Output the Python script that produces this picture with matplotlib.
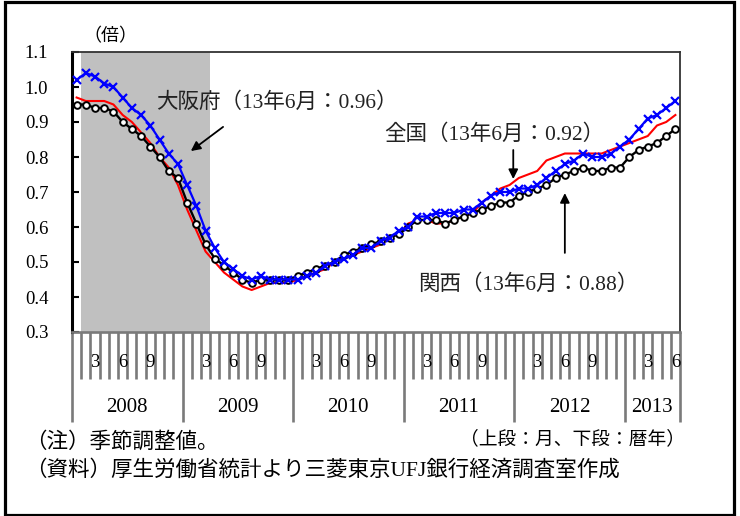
import numpy as np
import matplotlib
matplotlib.use('Agg')
import matplotlib.pyplot as plt
from matplotlib.patches import Rectangle

plt.rcParams['font.family'] = ['Liberation Serif', 'Noto Sans CJK JP']

W, H, DPI = 740, 516, 100

# monthly values, Jan 2008 .. Jun 2013 (seasonally adjusted)
osaka = [
    1.02, 1.04, 1.03, 1.01, 1.00, 0.97, 0.94, 0.92, 0.89, 0.85, 0.81, 0.78,
    0.72, 0.66, 0.59, 0.54, 0.50, 0.48, 0.46, 0.45, 0.46, 0.45, 0.45, 0.45,
    0.45, 0.46, 0.47, 0.49, 0.50, 0.51, 0.52, 0.54, 0.54, 0.56, 0.57, 0.59,
    0.60, 0.63, 0.63, 0.64, 0.64, 0.64, 0.65, 0.65, 0.67, 0.69, 0.70, 0.70,
    0.71, 0.71, 0.72, 0.74, 0.76, 0.78, 0.79, 0.81, 0.80, 0.80, 0.81, 0.83,
    0.85, 0.88, 0.91, 0.92, 0.94, 0.96,
]
kansai = [
    0.95, 0.95, 0.94, 0.94, 0.93, 0.90, 0.88, 0.86, 0.83, 0.80, 0.76, 0.74,
    0.67, 0.61, 0.55, 0.51, 0.49, 0.47, 0.45, 0.44, 0.45, 0.45, 0.45, 0.45,
    0.46, 0.47, 0.48, 0.49, 0.50, 0.52, 0.53, 0.54, 0.55, 0.56, 0.57, 0.58,
    0.60, 0.62, 0.62, 0.62, 0.61, 0.62, 0.63, 0.64, 0.65, 0.66, 0.67, 0.67,
    0.69, 0.70, 0.71, 0.72, 0.74, 0.75, 0.76, 0.77, 0.76, 0.76, 0.77, 0.77,
    0.80, 0.82, 0.83, 0.84, 0.86, 0.88,
]
national = [
    0.97, 0.96, 0.96, 0.96, 0.95, 0.92, 0.90, 0.87, 0.84, 0.80, 0.77, 0.72,
    0.65, 0.59, 0.53, 0.50, 0.47, 0.45, 0.43, 0.42, 0.43, 0.44, 0.44, 0.44,
    0.45, 0.46, 0.47, 0.48, 0.50, 0.51, 0.52, 0.53, 0.54, 0.55, 0.57, 0.58,
    0.61, 0.62, 0.62, 0.61, 0.61, 0.62, 0.63, 0.64, 0.67, 0.69, 0.71, 0.72,
    0.74, 0.75, 0.76, 0.79, 0.80, 0.81, 0.81, 0.81, 0.81, 0.81, 0.82, 0.83,
    0.84, 0.85, 0.86, 0.89, 0.90, 0.92,
]
years = [2008, 2009, 2010, 2011, 2012, 2013]
month_labels = [3, 6, 9]
recession = (1, 14)  # Feb 2008 .. Mar 2009, as month indices

n = len(osaka)
x = np.arange(n)


def px(xp, yp):
    """pixel position (from top-left) -> figure fraction"""
    return xp / W, 1 - yp / H


fig = plt.figure(figsize=(W / DPI, H / DPI), dpi=DPI)
fig.patch.set_facecolor('white')
ax = fig.add_axes([72 / W, 1 - 332 / H, 608 / W, 280 / H])

ax.axvspan(recession[0] - 0.5, recession[1] + 0.5, color='#C0C0C0', lw=0, zorder=0)

ax.plot(x, national, color='#FF0000', lw=1.5, zorder=3)
ax.plot(x, kansai, color='black', lw=1.7, marker='o', ms=4.8, mfc='white',
        mec='black', mew=1.4, zorder=4)
ax.plot(x, osaka, color='#0000FF', lw=1.6, marker='x', ms=5.5, mew=1.6, zorder=5)

ax.set_xlim(-0.5, n - 0.5)
ax.set_ylim(0.3, 1.1)

# y axis
yt = np.round(np.arange(0.3, 1.101, 0.1), 1)
ax.set_yticks(yt)
ax.set_yticklabels([f'{v:.1f}' for v in yt])
ax.tick_params(axis='y', direction='in', length=5, width=1.5, color='black',
               pad=17, labelsize=13.5)

# x axis: long ticks at year edges, short ones at month edges
year_edges = [-0.5 + 12 * k for k in range(len(years))] + [n - 0.5]
ax.set_xticks(year_edges)
ax.set_xticks(np.arange(-0.5, n, 1.0), minor=True)
ax.set_xticklabels([])
ax.tick_params(axis='x', which='major', direction='out', length=65, width=1.9,
               color='#7A7A7A')
ax.tick_params(axis='x', which='minor', direction='out', length=34, width=1.9,
               color='#7A7A7A')

tr = ax.get_xaxis_transform()
for k, yr in enumerate(years):
    start = 12 * k
    for m in month_labels:
        if start + m - 1 < n:
            ax.text(start + m - 1, -0.11, str(m), transform=tr, ha='center',
                    va='center', fontsize=13.5)
    lo = year_edges[k]
    hi = year_edges[k + 1]
    ax.text((lo + hi) / 2, -0.27, str(yr), transform=tr, ha='center',
            va='center', fontsize=15)

for side in ['top', 'right']:
    ax.spines[side].set_color('#333333')
    ax.spines[side].set_linewidth(1.3)
ax.spines['left'].set_color('black')
ax.spines['left'].set_linewidth(2.2)
ax.spines['bottom'].set_color('#7A7A7A')
ax.spines['bottom'].set_linewidth(1.9)

# callouts
arrow = dict(arrowstyle='-|>', color='black', lw=1.3, mutation_scale=14,
             shrinkA=0, shrinkB=0)
ax.annotate('', xy=(12.4, 0.817), xytext=(15.9, 0.886), arrowprops=arrow)
ax.annotate('', xy=(47.4, 0.737), xytext=(47.4, 0.82), arrowprops=arrow)
ax.annotate('', xy=(53.0, 0.697), xytext=(53.0, 0.526), arrowprops=arrow)

fig.text(*px(156, 103), '大阪府（13年6月：0.96）', ha='left', va='center',
         fontsize=15.5, color='#222222')
fig.text(*px(384, 135), '全国（13年6月：0.92）', ha='left', va='center',
         fontsize=15.5, color='#222222')
fig.text(*px(418, 285), '関西（13年6月：0.88）', ha='left', va='center',
         fontsize=15.5, color='#222222')

fig.text(*px(83, 37), '（倍）', ha='left', va='center', fontsize=13)
fig.text(*px(685, 439), '（上段：月、下段：暦年）', ha='right', va='center',
         fontsize=13.5)
fig.text(*px(25, 443), '（注）季節調整値。', ha='left', va='center', fontsize=15.5)
fig.text(*px(25, 470), '（資料）厚生労働省統計より三菱東京UFJ銀行経済調査室作成',
         ha='left', va='center', fontsize=15.5)

# outer frame
fig.patches.append(Rectangle((4.5 / W, 1.5 / H), 729 / W, 513 / H,
                             transform=fig.transFigure, fill=False,
                             edgecolor='black', lw=2.3))

fig.savefig('out.png', dpi=DPI, facecolor='white')
